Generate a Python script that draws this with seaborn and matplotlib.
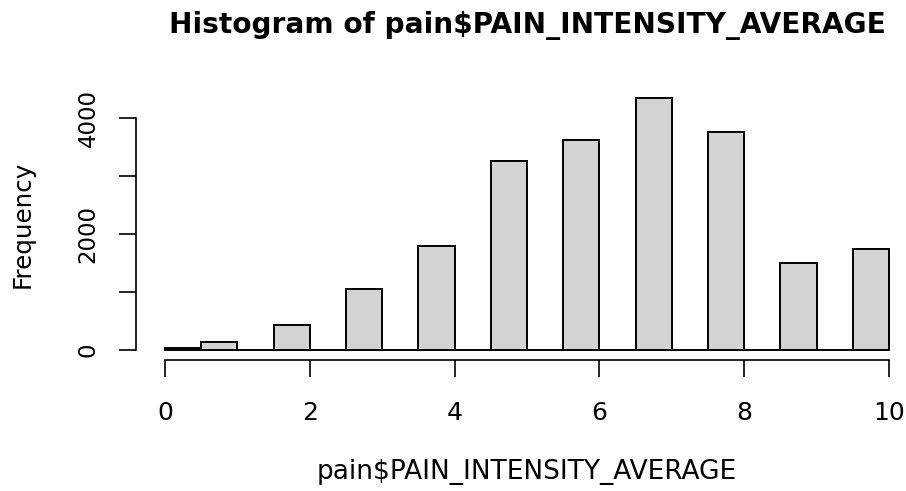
import numpy as np
import pandas as pd
import matplotlib
matplotlib.use("Agg")
import matplotlib.pyplot as plt
import seaborn as sns

# ---- data ----
bin_edges = [0.0, 0.5, 1.0, 1.5, 2.0, 2.5, 3.0, 3.5, 4.0, 4.5, 5.0,
             5.5, 6.0, 6.5, 7.0, 7.5, 8.0, 8.5, 9.0, 9.5, 10.0]
bin_counts = [40, 138, 0, 430, 0, 1045, 0, 1796, 0, 3260,
              0, 3610, 0, 4339, 0, 3753, 0, 1498, 0, 1734]
x_ticks = [0, 2, 4, 6, 8, 10]
x_tick_labels = ["0", "2", "4", "6", "8", "10"]
y_ticks = [0, 1000, 2000, 3000, 4000]
y_tick_labels = ["0", "", "2000", "", "4000"]
title = "Histogram of pain$PAIN_INTENSITY_AVERAGE"
x_label = "pain$PAIN_INTENSITY_AVERAGE"
y_label = "Frequency"

sns.set_style("white")
plt.rcParams["font.family"] = ["DejaVu Sans"]
plt.rcParams["text.color"] = "black"
plt.rcParams["axes.labelcolor"] = "black"

W, H = 906, 491
fig = plt.figure(figsize=(W / 100, H / 100), dpi=100)
left_px, right_px, bottom_px, top_px = 136, 918, 360.1, 87.9
ax = fig.add_axes([left_px / W, 1 - bottom_px / H,
                   (right_px - left_px) / W, (bottom_px - top_px) / H])

edges = np.array(bin_edges)
df = pd.DataFrame({"mid": (edges[:-1] + edges[1:]) / 2,
                   "count": np.array(bin_counts, dtype=float)})
sns.histplot(data=df, x="mid", weights="count", bins=bin_edges, ax=ax,
             color="#D3D3D3", edgecolor="black", linewidth=1.4, alpha=1)

xr = bin_edges[-1] - bin_edges[0]
yr = max(bin_counts)
ax.set_xlim(bin_edges[0] - 0.04 * xr, bin_edges[-1] + 0.04 * xr)
ax.set_ylim(-0.04 * yr, yr * 1.04)

for s in ["top", "right"]:
    ax.spines[s].set_visible(False)
ax.spines["bottom"].set_bounds(x_ticks[0], x_ticks[-1])
ax.spines["left"].set_bounds(y_ticks[0], y_ticks[-1])
for s in ["bottom", "left"]:
    ax.spines[s].set_linewidth(1.2)
    ax.spines[s].set_color("black")

ax.set_xticks(x_ticks)
ax.set_xticklabels(x_tick_labels)
ax.set_yticks(y_ticks)
ax.set_yticklabels(y_tick_labels, rotation=90, va="center")
ax.tick_params(axis="x", length=12.2, width=1.2, direction="out",
               labelsize=18, pad=17, colors="black", bottom=True)
ax.tick_params(axis="y", length=12.2, width=1.2, direction="out",
               labelsize=16.5, pad=14, colors="black", left=True)

ax.set_xlabel(x_label, fontsize=19, labelpad=24.5, color="black")
ax.set_ylabel(y_label, fontsize=17.7, labelpad=30, color="black")
ax.set_title(title, fontsize=20.2, fontweight="bold", pad=39.7, color="black")
ax.grid(False)

fig.savefig("out.png", dpi=100, facecolor="white")
